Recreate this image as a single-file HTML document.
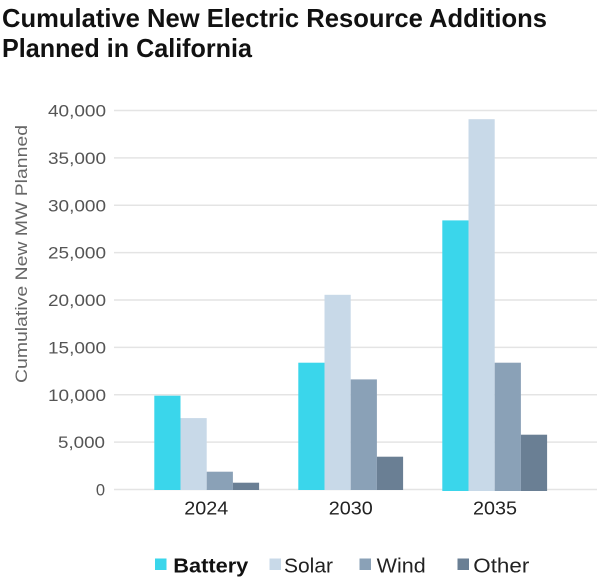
<!DOCTYPE html>
<html><head><meta charset="utf-8"><style>
html,body{margin:0;padding:0;background:#fff;}
svg{display:block;font-family:"Liberation Sans",sans-serif;}
</style></head><body>
<svg width="600" height="580" viewBox="0 0 600 580" xmlns="http://www.w3.org/2000/svg">
<rect width="600" height="580" fill="#fff"/>
<text x="2" y="27" font-size="26" font-weight="bold" fill="#111" textLength="545" lengthAdjust="spacingAndGlyphs">Cumulative New Electric Resource Additions</text>
<text x="2" y="57" font-size="26" font-weight="bold" fill="#111" textLength="250" lengthAdjust="spacingAndGlyphs">Planned in California</text>
<g stroke="#e4e4e4" stroke-width="1.5">
<line x1="114" x2="597" y1="110.5" y2="110.5"/>
<line x1="114" x2="597" y1="157.9" y2="157.9"/>
<line x1="114" x2="597" y1="205.3" y2="205.3"/>
<line x1="114" x2="597" y1="252.6" y2="252.6"/>
<line x1="114" x2="597" y1="300" y2="300"/>
<line x1="114" x2="597" y1="347.4" y2="347.4"/>
<line x1="114" x2="597" y1="394.8" y2="394.8"/>
<line x1="114" x2="597" y1="442.1" y2="442.1"/>
<line x1="114" x2="597" y1="489.5" y2="489.5"/>
</g>
<g font-size="16.5" fill="#555" text-anchor="end">
<text x="106" y="116.5" textLength="58" lengthAdjust="spacingAndGlyphs">40,000</text>
<text x="106" y="163.9" textLength="58" lengthAdjust="spacingAndGlyphs">35,000</text>
<text x="106" y="211.3" textLength="58" lengthAdjust="spacingAndGlyphs">30,000</text>
<text x="106" y="258.6" textLength="58" lengthAdjust="spacingAndGlyphs">25,000</text>
<text x="106" y="306" textLength="58" lengthAdjust="spacingAndGlyphs">20,000</text>
<text x="106" y="353.4" textLength="58" lengthAdjust="spacingAndGlyphs">15,000</text>
<text x="106" y="400.8" textLength="58" lengthAdjust="spacingAndGlyphs">10,000</text>
<text x="105" y="448.1" textLength="47" lengthAdjust="spacingAndGlyphs">5,000</text>
<text x="105" y="495.5">0</text>
</g>
<text transform="translate(27,254) rotate(-90)" font-size="17" fill="#666" text-anchor="middle" textLength="258" lengthAdjust="spacingAndGlyphs">Cumulative New MW Planned</text>
<!-- 2024 -->
<rect x="154.3" y="395.7" width="26.2" height="94.3" fill="#3ad6eb"/>
<rect x="180.5" y="418.1" width="26.2" height="71.9" fill="#c8d9e8"/>
<rect x="206.7" y="471.7" width="26.2" height="18.3" fill="#8aa1b7"/>
<rect x="232.9" y="482.7" width="26.2" height="7.3" fill="#6a7f94"/>
<!-- 2030 -->
<rect x="298.3" y="362.7" width="26.2" height="127.3" fill="#3ad6eb"/>
<rect x="324.5" y="294.8" width="26.2" height="195.2" fill="#c8d9e8"/>
<rect x="350.7" y="379.4" width="26.2" height="110.6" fill="#8aa1b7"/>
<rect x="376.9" y="456.7" width="26.2" height="33.3" fill="#6a7f94"/>
<!-- 2035 -->
<rect x="442.3" y="220.4" width="26.2" height="270.6" fill="#3ad6eb"/>
<rect x="468.5" y="119.2" width="26.2" height="371.8" fill="#c8d9e8"/>
<rect x="494.7" y="362.7" width="26.2" height="128.3" fill="#8aa1b7"/>
<rect x="520.9" y="434.7" width="26.2" height="56.3" fill="#6a7f94"/>
<g font-size="18" fill="#222" text-anchor="middle">
<text x="206.3" y="514.5" textLength="44" lengthAdjust="spacingAndGlyphs">2024</text>
<text x="350.8" y="514.5" textLength="44" lengthAdjust="spacingAndGlyphs">2030</text>
<text x="495" y="514.5" textLength="44" lengthAdjust="spacingAndGlyphs">2035</text>
</g>
<rect x="155" y="558.5" width="11.5" height="11.5" fill="#3ad6eb"/>
<text x="173.3" y="572.5" font-size="20" font-weight="bold" fill="#111" textLength="75" lengthAdjust="spacingAndGlyphs">Battery</text>
<rect x="269.5" y="558.5" width="11.5" height="11.5" fill="#c8d9e8"/>
<text x="284" y="572.5" font-size="20" fill="#222" textLength="49" lengthAdjust="spacingAndGlyphs">Solar</text>
<rect x="359.5" y="558.5" width="11.5" height="11.5" fill="#8aa1b7"/>
<text x="376.7" y="572.5" font-size="20" fill="#222" textLength="49" lengthAdjust="spacingAndGlyphs">Wind</text>
<rect x="457.5" y="558.5" width="11.5" height="11.5" fill="#6a7f94"/>
<text x="473.3" y="572.5" font-size="20" fill="#222" textLength="56" lengthAdjust="spacingAndGlyphs">Other</text>
</svg>
</body></html>
